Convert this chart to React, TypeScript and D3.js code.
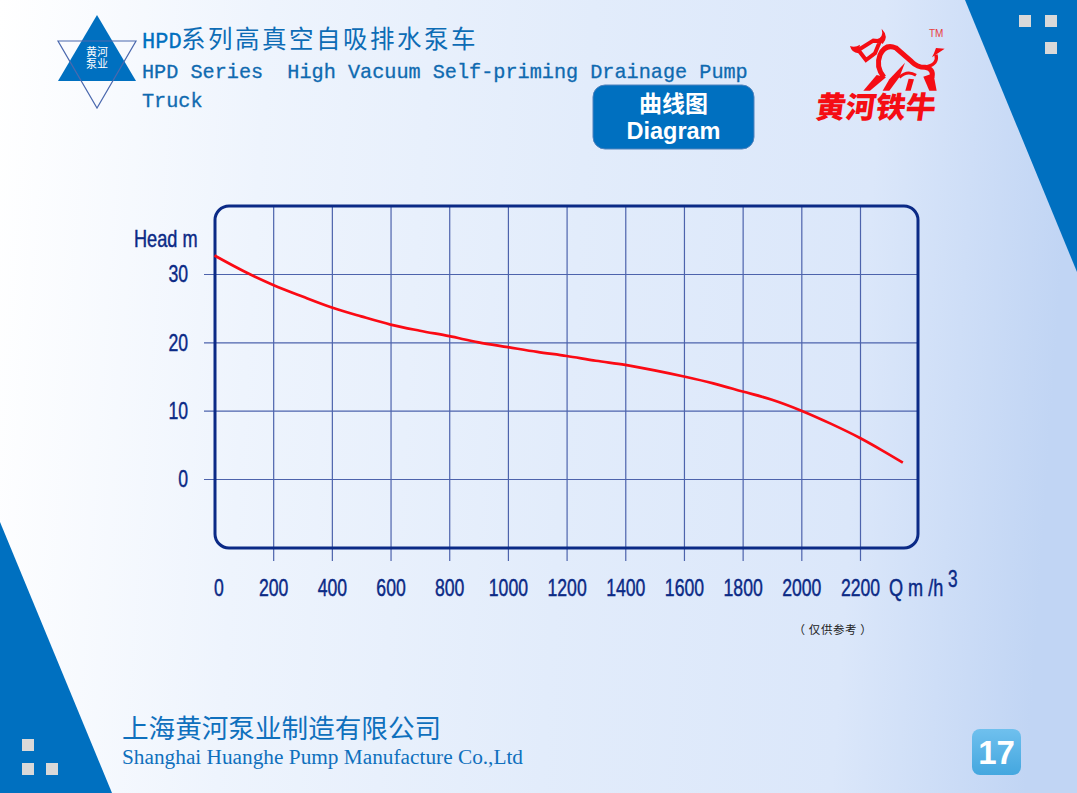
import React, { useEffect, useRef } from 'react';
import * as d3 from 'd3';

const flowTicks = [0, 200, 400, 600, 800, 1000, 1200, 1400, 1600, 1800, 2000, 2200];
const headTicks = [0, 10, 20, 30];
const curveFlow = [0, 100, 200, 300, 400, 500, 600, 700, 800, 900, 1000, 1100, 1200, 1300, 1400, 1500, 1600, 1700, 1800, 1900, 2000, 2100, 2200, 2275, 2346];
const curveHead = [32.7, 30.4, 28.4, 26.7, 25.1, 23.8, 22.6, 21.7, 20.9, 20, 19.3, 18.6, 18, 17.3, 16.7, 15.9, 15, 14, 12.8, 11.6, 10, 8.1, 6, 4.2, 2.4];

const BLUE = '#0070c0';
const NAVY = '#0b2a86';
const GRID = '#4d63ac';
const RED = '#f50d14';
const SANS = '"Liberation Sans", sans-serif';
const CJK = '"Noto Sans CJK SC", sans-serif';
const MONO = '"Liberation Mono", "DejaVu Sans Mono", monospace';

const App: React.FC = () => {
  const svgRef = useRef<SVGSVGElement | null>(null);

  useEffect(() => {
    if (!svgRef.current) return;
    const svg = d3.select(svgRef.current);
    svg.selectAll('*').remove();

    const defs = svg.append('defs');
    const bg = defs.append('linearGradient').attr('id', 'page-bg').attr('x1', 0).attr('x2', 1).attr('y1', 0).attr('y2', 0.05);
    bg.append('stop').attr('offset', '0%').attr('stop-color', '#ffffff');
    bg.append('stop').attr('offset', '25%').attr('stop-color', '#eef4fd');
    bg.append('stop').attr('offset', '55%').attr('stop-color', '#e2ecfb');
    bg.append('stop').attr('offset', '82%').attr('stop-color', '#dbe7fa');
    bg.append('stop').attr('offset', '100%').attr('stop-color', '#c1d5f4');
    const badge = defs.append('linearGradient').attr('id', 'badge-bg').attr('x1', 0).attr('x2', 0).attr('y1', 0).attr('y2', 1);
    badge.append('stop').attr('offset', '0%').attr('stop-color', '#6fc0ee');
    badge.append('stop').attr('offset', '100%').attr('stop-color', '#44a7df');

    svg.append('rect').attr('width', 1077).attr('height', 793).attr('fill', 'url(#page-bg)');

    // corner pieces
    svg.append('path').attr('d', 'M965,0H1077V272Z').attr('fill', BLUE);
    svg.append('path').attr('d', 'M0,522L112,793H0Z').attr('fill', BLUE);
    const squares = [[1019, 15], [1045, 15], [1045, 42], [22, 739], [22, 763], [46, 763]];
    svg.selectAll('rect.sq').data(squares).enter().append('rect')
      .attr('class', 'sq')
      .attr('x', d => d[0]).attr('y', d => d[1])
      .attr('width', 12).attr('height', 12)
      .attr('fill', '#d9d9d9');

    const addText = (
      x: number, y: number, str: string, size: number, fill: string, family: string,
      extra: Record<string, string | number> = {},
    ) => {
      const t = svg.append('text').attr('x', x).attr('y', y).attr('font-size', size).attr('fill', fill).attr('font-family', family).text(str);
      Object.entries(extra).forEach(([k, v]) => t.attr(k, v));
      return t;
    };
    // condensed text, there is no narrow face installed
    const addNarrow = (x: number, y: number, str: string, size: number, sx: number) =>
      svg.append('text')
        .attr('transform', `translate(${x},${y}) scale(${sx},1)`)
        .attr('font-size', size).attr('fill', NAVY).attr('stroke', NAVY).attr('stroke-width', 0.45)
        .attr('font-family', SANS).text(str);

    // triangle logo
    svg.append('path').attr('d', 'M97,15L136,81H58Z').attr('fill', BLUE);
    svg.append('path').attr('d', 'M58,41H136L97,108Z').attr('fill', 'none').attr('stroke', '#4b69ae').attr('stroke-width', 1.2);
    const logoText = svg.append('text').attr('text-anchor', 'middle').attr('font-size', 11).attr('fill', '#fff').attr('font-family', CJK);
    logoText.append('tspan').attr('x', 97).attr('y', 56).text('黄河');
    logoText.append('tspan').attr('x', 97).attr('y', 68).text('泵业');

    // headings
    addText(142, 48, 'HPD', 22, BLUE, MONO, { stroke: BLUE, 'stroke-width': 0.3 });
    addText(181, 48, '系列高真空自吸排水泵车', 24.5, '#0d6cb5', CJK, { 'letter-spacing': 2.5 });
    addText(142, 78, 'HPD Series  High Vacuum Self-priming Drainage Pump', 20.2, '#0f6ab0', MONO, { stroke: '#0f6ab0', 'stroke-width': 0.3 }).style('white-space', 'pre');
    addText(142, 107, 'Truck', 20.2, '#0f6ab0', MONO, { stroke: '#0f6ab0', 'stroke-width': 0.3 });

    // Diagram button
    svg.append('rect').attr('x', 593).attr('y', 85).attr('width', 161).attr('height', 64).attr('rx', 12)
      .attr('fill', BLUE).attr('stroke', '#4f82bd').attr('stroke-width', 1);
    addText(673.5, 112, '曲线图', 23, '#fff', CJK, { 'text-anchor': 'middle', 'font-weight': 700 });
    addText(673.5, 139, 'Diagram', 23.5, '#fff', SANS, { 'text-anchor': 'middle', 'font-weight': 700 });

    // bull mark, in the crop's own units
    const bull = svg.append('g').attr('transform', 'translate(810,20) scale(0.3333)')
      .attr('fill', 'none').attr('stroke', RED).attr('stroke-width', 14).attr('stroke-linejoin', 'miter');
    bull.append('path').attr('d', 'M145,90L190,62L210,64L195,100L168,120Z').attr('stroke-width', 12);
    bull.append('path').attr('d', 'M200,58Q222,52 215,26Q238,50 218,72Z').attr('fill', RED).attr('stroke', 'none');
    bull.append('path').attr('d', 'M120,78Q135,84 150,74L145,100Q125,98 120,78Z').attr('fill', RED).attr('stroke', 'none');
    bull.append('path').attr('d', 'M222,172Q196,140 210,105Q226,70 258,84L305,125Q322,142 345,142Q372,146 366,172').attr('stroke-width', 15);
    bull.append('path').attr('d', 'M352,140Q385,132 378,104').attr('stroke-width', 10);
    bull.append('path').attr('d', 'M366,112L404,86L378,84L372,100Z').attr('fill', RED).attr('stroke', 'none');
    bull.append('path').attr('d', 'M200,165L160,212H180L228,172Z').attr('fill', RED).attr('stroke', 'none');
    bull.append('path').attr('d', 'M285,128L238,178L218,212H238L268,172Z').attr('fill', RED).attr('stroke', 'none');
    bull.append('path').attr('d', 'M268,172Q292,150 318,166').attr('stroke-width', 9);
    bull.append('path').attr('d', 'M296,176L286,212H302L312,178Z').attr('fill', RED).attr('stroke', 'none');
    bull.append('path').attr('d', 'M340,170L358,212H380L370,160Z').attr('fill', RED).attr('stroke', 'none');
    addText(875, 118, '黄河铁牛', 30, RED, CJK, { 'text-anchor': 'middle', 'font-weight': 900, transform: 'translate(16,0) skewX(-8)' });
    addText(929, 37, 'TM', 10, '#e84040', SANS);

    // chart
    const xScale = d3.scaleLinear().domain([0, 2200]).range([214.5, 860]);
    const yScale = d3.scaleLinear().domain([0, 30]).range([479, 274]);
    const frameLeft = 215;
    const frameRight = 918;
    const frameTop = 206;
    const frameBottom = 548;

    // vertical grid + flow labels: the ticks run past the frame bottom
    const xAxis = d3.axisBottom(xScale)
      .tickValues(flowTicks)
      .tickSize(561 - frameTop)
      .tickPadding(18)
      .tickFormat(d => String(d));
    const xG = svg.append('g').attr('transform', `translate(0,${frameTop})`).call(xAxis);
    xG.select('.domain').remove();
    xG.selectAll('.tick line').attr('stroke', GRID).attr('stroke-width', 1.2);
    xG.selectAll('.tick').filter(d => d === 0).select('line').remove();
    xG.selectAll('.tick text')
      .attr('fill', NAVY).attr('stroke', NAVY).attr('stroke-width', 0.45)
      .attr('font-size', 24.5).attr('font-family', SANS)
      .attr('transform', d => `translate(${d === 0 ? 4 : 0},0) scale(0.72,1)`);

    // horizontal grid + head labels
    const yAxis = d3.axisLeft(yScale)
      .tickValues(headTicks)
      .tickSize(0)
      .tickPadding(0)
      .tickFormat(d => String(d));
    const yG = svg.append('g').attr('transform', 'translate(188,0)').call(yAxis);
    yG.select('.domain').remove();
    yG.selectAll('.tick line')
      .attr('x1', 16).attr('x2', frameRight - 188)
      .attr('stroke', GRID).attr('stroke-width', 1.2);
    yG.selectAll('.tick text')
      .attr('fill', NAVY).attr('stroke', NAVY).attr('stroke-width', 0.45)
      .attr('font-size', 24.5).attr('font-family', SANS)
      .attr('transform', 'scale(0.72,1)');

    svg.append('rect')
      .attr('x', frameLeft).attr('y', frameTop)
      .attr('width', frameRight - frameLeft).attr('height', frameBottom - frameTop)
      .attr('rx', 14)
      .attr('fill', 'none').attr('stroke', NAVY).attr('stroke-width', 3);

    const line = d3.line<number>()
      .x(d => xScale(d))
      .y((_, i) => yScale(curveHead[i]))
      .curve(d3.curveMonotoneX);
    svg.append('path').datum(curveFlow).attr('d', line)
      .attr('fill', 'none').attr('stroke', '#fb0a14').attr('stroke-width', 2.7);

    addNarrow(134, 247, 'Head m', 23, 0.79);
    addNarrow(889, 596, 'Q m /h', 23.5, 0.77);
    addNarrow(948, 587, '3', 24, 0.72);
    addText(833, 634, '（ 仅供参考 ）', 11.5, '#222', CJK, { 'text-anchor': 'middle', 'letter-spacing': 0.6 });

    // footer
    addText(122, 738, '上海黄河泵业制造有限公司', 26.6, '#0f70bd', CJK);
    addText(122, 764, 'Shanghai Huanghe Pump Manufacture Co.,Ltd', 21.3, '#0f70bd', '"Liberation Serif", serif');
    svg.append('rect').attr('x', 972).attr('y', 729).attr('width', 49).attr('height', 46).attr('rx', 8).attr('fill', 'url(#badge-bg)');
    addText(996.5, 764, '17', 33, '#fff', SANS, { 'text-anchor': 'middle', 'font-weight': 700 });
  }, []);

  return <svg ref={svgRef} width={1077} height={793} style={{ position: 'absolute', left: 0, top: 0, display: 'block' }} />;
};

export default App;
